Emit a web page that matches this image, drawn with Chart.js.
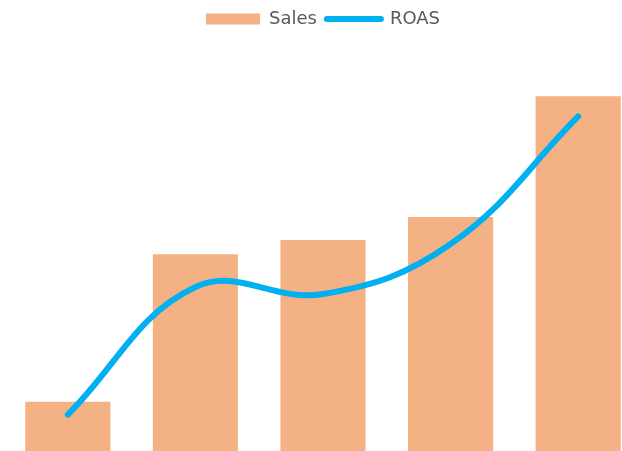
<!DOCTYPE html>
<html>
<head>
<meta charset="utf-8">
<script src="https://cdn.jsdelivr.net/npm/chart.js@4"></script>
<style>
  html, body { margin: 0; padding: 0; background: #fff; overflow: hidden; }
  #wrap { width: 646px; height: 451px; position: relative; }
</style>
</head>
<body>
<div id="wrap"><canvas id="salesChart"></canvas></div>
<script>
// data
const categories = ['1', '2', '3', '4', '5'];
const salesValues = [1430, 5720, 6130, 6800, 10310];
const roasValues = [0.88, 3.97, 3.80, 5.01, 8.10];
const seriesNames = ['Sales', 'ROAS'];

const ORANGE = '#F4B183';
const BLUE = '#00B0F0';

const ctx = document.getElementById('salesChart').getContext('2d');
new Chart(ctx, {
    type: 'bar',
    data: {
        labels: categories,
        datasets: [
            {
                type: 'bar',
                label: seriesNames[0],
                data: salesValues,
                backgroundColor: ORANGE,
                borderWidth: 0,
                barPercentage: 0.667,
                categoryPercentage: 1,
                yAxisID: 'y',
                order: 1
            },
            {
                type: 'line',
                label: seriesNames[1],
                data: roasValues,
                borderColor: BLUE,
                backgroundColor: BLUE,
                borderWidth: 6,
                borderCapStyle: 'round',
                tension: 0.4,
                pointRadius: 0,
                fill: false,
                yAxisID: 'y1',
                order: 0
            }
        ]
    },
    options: {
        responsive: true,
        maintainAspectRatio: false,
        animation: false,
        layout: { padding: { left: 4, right: 4, top: 0, bottom: 0 } },
        plugins: {
            tooltip: { enabled: false },
            legend: {
                position: 'top',
                labels: {
                    usePointStyle: true,
                    pointStyleWidth: 54,
                    boxHeight: 11,
                    padding: 10,
                    color: '#595959',
                    font: { family: 'DejaVu Sans', size: 18 },
                    generateLabels(chart) {
                        // keep the legend in dataset order (Sales first), the line is still drawn on top
                        const items = Chart.defaults.plugins.legend.labels.generateLabels(chart)
                            .sort((a, b) => a.datasetIndex - b.datasetIndex);
                        items[0].pointStyle = 'rect';
                        items[0].lineWidth = 0;
                        items[1].pointStyle = 'line';
                        items[1].lineWidth = 6;
                        items[1].lineCap = 'round';
                        items[1].strokeStyle = BLUE;
                        return items;
                    }
                }
            }
        },
        scales: {
            x: { display: false },
            y: { display: false, min: 0, max: 12000 },
            y1: { display: false, min: 0, max: 10, position: 'right' }
        }
    }
});
</script>
</body>
</html>
